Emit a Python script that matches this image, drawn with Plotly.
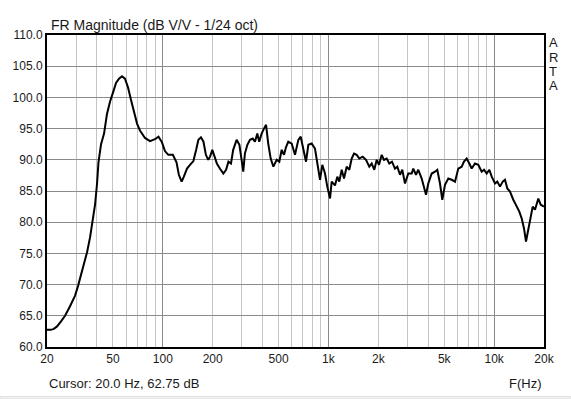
import plotly.graph_objects as go

# Frequency response data (Hz, dB)
freq_hz = [20, 21.1, 22.0, 23.0, 24.3, 25.7, 27.5, 29.5, 30.8, 33.0, 34.9, 36.4, 37.9, 39.0, 40.1, 40.9,
           42.4, 44.2, 46.0, 48.0, 50.1, 52.2, 54.4, 56.7, 59.1, 61.7, 64.3, 67.0, 69.9, 72.8, 78.1, 83.7,
           89.7, 94.2, 98.9, 103, 108, 115, 121, 125, 130, 134, 140, 146, 153, 159, 164, 170, 176, 182,
           188, 193, 199, 205, 212, 221, 232, 241, 249, 258, 266, 279, 290, 299, 306, 313, 324, 336, 349,
           360, 372, 382, 395, 408, 420, 433, 448, 465, 487, 505, 522, 539, 554, 572, 600, 628, 658, 680,
           705, 732, 756, 792, 829, 856, 889, 918, 953, 984, 1022, 1046, 1095, 1131, 1162, 1202, 1241,
           1288, 1336, 1381, 1426, 1480, 1535, 1609, 1685, 1764, 1824, 1891, 1955, 2019, 2096, 2164,
           2246, 2329, 2418, 2521, 2603, 2703, 2790, 2897, 3033, 3180, 3251, 3376, 3485, 3654, 3773,
           3879, 4005, 4199, 4396, 4539, 4712, 4865, 5052, 5288, 5544, 5805, 6077, 6371, 6578, 6830,
           7081, 7320, 7664, 8024, 8413, 8687, 9020, 9352, 9669, 10124, 10453, 10852, 11266, 11632,
           12010, 12470, 13054, 13686, 14190, 14672, 15148, 15574, 16080, 16626, 17094, 17650, 18478,
           19106, 20000]
mag_db = [62.75, 62.75, 62.9, 63.3, 64.1, 65.0, 66.5, 68.2, 69.8, 72.8, 75.2, 77.6, 80.4, 82.8, 86.2, 89.6,
          92.5, 94.2, 97.3, 99.3, 100.8, 102.3, 103.0, 103.4, 103.0, 101.6, 99.6, 97.5, 95.8, 94.7, 93.5, 93.0,
          93.3, 93.7, 92.8, 91.4, 90.8, 90.8, 89.6, 87.6, 86.5, 87.3, 88.6, 89.2, 89.8, 91.6, 93.2, 93.6, 92.9, 90.8,
          90.0, 90.5, 91.6, 90.6, 89.4, 88.6, 87.8, 88.4, 89.7, 89.4, 91.6, 93.2, 92.4, 90.0, 88.1, 91.0, 92.4, 93.2, 93.4,
          92.9, 94.2, 92.9, 94.2, 95.0, 95.6, 92.6, 90.2, 88.9, 90.0, 89.7, 91.6, 90.8, 92.0, 92.9, 92.6, 90.8, 93.2, 93.7,
          91.6, 89.7, 92.4, 92.6, 91.8, 89.2, 86.8, 89.2, 87.8, 85.7, 83.8, 86.5, 85.9, 87.3, 86.5, 88.4, 87.0,
          88.9, 88.4, 90.2, 91.0, 90.8, 90.2, 90.5, 90.0, 88.9, 89.4, 88.4, 90.0, 89.2, 90.8, 90.0,
          90.2, 89.4, 89.7, 88.6, 88.9, 87.6, 88.4, 86.2, 87.8, 87.8, 88.6, 87.6, 88.4, 87.0, 85.7,
          84.4, 86.2, 87.8, 88.1, 88.4, 86.2, 83.6, 86.0, 87.0, 86.8, 86.5, 88.6, 88.9, 89.7, 90.2,
          89.4, 88.6, 89.4, 89.2, 88.1, 88.4, 87.8, 88.4, 87.3, 86.2, 86.5, 85.7, 86.5, 86.8,
          85.4, 84.9, 83.6, 82.5, 81.7, 80.6, 79.0, 76.9, 78.8, 80.4, 82.5, 82.0, 83.8,
          82.8, 82.5]

x_tick_vals = [20, 50, 100, 200, 500, 1000, 2000, 5000, 10000, 20000]
x_tick_text = ["20", "50", "100", "200", "500", "1k", "2k", "5k", "10k", "20k"]
x_minor_vals = [30, 40, 60, 70, 80, 90, 300, 400, 600, 700, 800, 900,
                3000, 4000, 6000, 7000, 8000, 9000]
x_decade_vals = [100, 1000, 10000]
y_tick_vals = [60, 65, 70, 75, 80, 85, 90, 95, 100, 105, 110]

title_text = "FR Magnitude (dB V/V - 1/24 oct)"
cursor_text = "Cursor: 20.0 Hz, 62.75 dB"
xlabel_text = "F(Hz)"
brand_letters = ["A", "R", "T", "A"]

FONT = "Liberation Sans, Arial, sans-serif"
TXT = "#1a1a1a"

fig = go.Figure()
fig.add_trace(go.Scatter(x=freq_hz, y=mag_db, mode="lines",
                         line=dict(color="black", width=2), showlegend=False,
                         hoverinfo="skip"))

fig.update_layout(
    width=571, height=399,
    margin=dict(l=47, r=27, t=35, b=52, autoexpand=False),
    paper_bgcolor="white", plot_bgcolor="white",
    font=dict(family=FONT, size=12, color=TXT),
    showlegend=False,
    xaxis=dict(type="log", range=[1.30103, 4.30103],
               tickvals=x_tick_vals, ticktext=x_tick_text,
               showgrid=True, gridcolor="#c4c4c4", gridwidth=1,
               minor=dict(tickvals=x_minor_vals, showgrid=True,
                          gridcolor="#c4c4c4", gridwidth=1, ticks=""),
               showline=True, linecolor="black", linewidth=2, mirror=True,
               ticks="", ticklen=0, zeroline=False,
               tickfont=dict(family=FONT, size=12, color=TXT)),
    xaxis2=dict(type="log", range=[1.30103, 4.30103], overlaying="x",
                tickvals=x_decade_vals, showticklabels=False,
                showgrid=True, gridcolor="#8a8a8a", gridwidth=1,
                showline=False, ticks="", zeroline=False),
    yaxis=dict(range=[60, 110], tickvals=y_tick_vals, tickformat=".1f",
               showgrid=True, gridcolor="#8a8a8a", gridwidth=1,
               showline=True, linecolor="black", linewidth=2, mirror=True,
               ticks="", zeroline=False,
               tickfont=dict(family=FONT, size=12, color=TXT)),
)

# dummy trace for the overlay axis so its gridlines render
fig.add_trace(go.Scatter(x=[20, 20000], y=[None, None], xaxis="x2",
                         mode="lines", showlegend=False, hoverinfo="skip"))

fig.add_annotation(text=title_text, xref="paper", yref="paper",
                   x=0.004, y=1.0, xanchor="left", yanchor="bottom", yshift=0,
                   showarrow=False, font=dict(family=FONT, size=14, color=TXT))
fig.add_annotation(text=cursor_text, xref="paper", yref="paper",
                   x=0.0, y=0, xanchor="left", yanchor="middle", yshift=-36,
                   showarrow=False, font=dict(family=FONT, size=13, color=TXT))
fig.add_annotation(text=xlabel_text, xref="paper", yref="paper",
                   x=1.0, y=0, xanchor="right", yanchor="middle", yshift=-36,
                   showarrow=False, font=dict(family=FONT, size=13, color=TXT))
for i, letter in enumerate(brand_letters):
    fig.add_annotation(text=letter, xref="paper", yref="paper",
                       x=1.0, y=1.0, xanchor="center", yanchor="middle",
                       xshift=9, yshift=-7.7 - 14.3 * i,
                       showarrow=False, font=dict(family=FONT, size=13, color=TXT))

# light window-bottom band
fig.add_shape(type="rect", xref="paper", yref="paper",
              x0=-47 / 497, x1=524 / 497, y0=-52 / 312, y1=-49.5 / 312,
              fillcolor="#f0f0f0", line=dict(color="#e2e2e2", width=1), layer="below")

fig.write_html("out.html", config={"displayModeBar": False},
               post_script="document.body.style.margin='0';document.body.style.overflow='hidden';")
